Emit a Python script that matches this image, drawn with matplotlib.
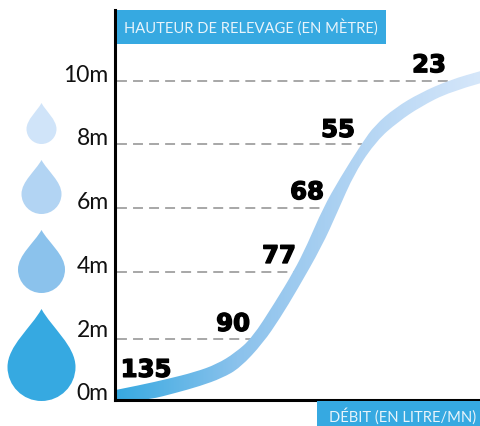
import numpy as np
import matplotlib
matplotlib.use('Agg')
from matplotlib import pyplot as plt
from matplotlib import patheffects
from matplotlib.colors import LinearSegmentedColormap
from matplotlib.patches import PathPatch, Rectangle
from matplotlib.path import Path
from matplotlib.transforms import ScaledTranslation

plt.rcParams['font.family'] = ['Lato', 'DejaVu Sans']

# curve band, x is the position along the flow axis, y in metres
upper_x = [0.5, 24.5, 51.5, 79.5, 101.5, 119.5, 136.5, 159, 178.5, 191.5, 207.5, 224.5, 246.5, 259.5, 279.5, 304.5, 334.5, 365.5]
upper_y = [0.30, 0.45, 0.64, 0.86, 1.11, 1.46, 1.93, 3.02, 4.03, 4.84, 6.0, 6.94, 8.04, 8.60, 9.14, 9.61, 10.02, 10.30]
lower_x = [0.5, 34.5, 59.5, 84.5, 106.5, 124.5, 147.5, 164.5, 181.5, 206.5, 221.5, 239.5, 261.5, 282.5, 304.5, 334.5, 365.5]
lower_y = [-0.1, 0.0, 0.2, 0.42, 0.67, 0.99, 1.77, 2.55, 3.43, 4.81, 5.85, 7.13, 8.13, 8.70, 9.17, 9.65, 9.92]

y_ticks = [0, 2, 4, 6, 8, 10]
y_labels = ['0m', '2m', '4m', '6m', '8m', '10m']

grid_y = [1.91, 4, 6, 8, 10]
grid_end = [136.5, 178.5, 207.5, 246.5, 334.5]

flows = ['135', '90', '77', '68', '55', '23']
flow_x = [30.5, 117.5, 163.5, 191.5, 222.5, 313.5]
flow_y = [0.93, 2.37, 4.5, 6.5, 8.45, 10.48]

drop_top = [103, 160, 230, 309]
drop_bottom = [144, 214, 293, 401]
drop_halfwidth = [15, 20, 23.5, 34]
drop_colors = ['#d0e4f9', '#b2d4f3', '#8bc2ec', '#36a9e1']

BLUE = '#36a9e1'
W, H = 481, 426

fig = plt.figure(figsize=(W / 100, H / 100), dpi=100)


def smooth_path(xs, ys):
    # quadratic curve through the midpoints of the read points
    verts = [(xs[0], ys[0])]
    codes = [Path.MOVETO]
    for i in range(1, len(xs) - 1):
        verts.append((xs[i], ys[i]))
        verts.append(((xs[i] + xs[i + 1]) / 2, (ys[i] + ys[i + 1]) / 2))
        codes += [Path.CURVE3, Path.CURVE3]
    verts.append((xs[-1], ys[-1]))
    codes.append(Path.LINETO)
    return verts, codes


ax = fig.add_axes([115.5 / W, (H - 399.5) / H, (W - 115.5) / W, 389.5 / H])

v1, c1 = smooth_path(upper_x, upper_y)
v2, c2 = smooth_path(lower_x[::-1], lower_y[::-1])
c2[0] = Path.LINETO
band = Path(v1 + v2 + [v1[0]], c1 + c2 + [Path.CLOSEPOLY])

cmap = LinearSegmentedColormap.from_list('band', ['#36a9e1', '#8bc2ec', '#b2d4f3', '#d6e7fa'])
grad = np.linspace(0, 1, 256).reshape(1, -1)
img = ax.imshow(grad, cmap=cmap, extent=[0, 365.5, -1, 12], aspect='auto', zorder=2)
img.set_clip_path(PathPatch(band, transform=ax.transData))

for y, end in zip(grid_y, grid_end):
    ax.plot([1.5, end], [y, y], color='#8f8f8f', lw=1.1, dashes=(6.5, 4), zorder=1)

heavy = [patheffects.withStroke(linewidth=1.0, foreground='black')]
for s, x, y in zip(flows, flow_x, flow_y):
    ax.text(x, y, s, fontsize=17.5, fontweight='bold', family='DejaVu Sans', color='black',
            ha='center', va='center', zorder=3, path_effects=heavy)

ax.set_xlim(0, W - 115.5)
ax.set_ylim(0, 389.5 / 31.9)
ax.set_xticks([])
ax.set_yticks(y_ticks)
ax.set_yticklabels(y_labels, fontsize=16.5, color='#111111')
ax.tick_params(axis='y', length=0, pad=5)
shift = ScaledTranslation(0, 7.5 / 100, fig.dpi_scale_trans)
for lab in ax.get_yticklabels():
    lab.set_transform(lab.get_transform() + shift)
ax.spines['top'].set_visible(False)
ax.spines['right'].set_visible(False)
ax.spines['left'].set_linewidth(2.2)
ax.spines['bottom'].set_linewidth(2.2)

# overlay in pixels for the drops and the two title boxes
ov = fig.add_axes([0, 0, 1, 1], zorder=5)
ov.set_xlim(0, W)
ov.set_ylim(H, 0)
ov.axis('off')
ov.patch.set_alpha(0)

cx = 41.5
for top, bottom, hw, col in zip(drop_top, drop_bottom, drop_halfwidth, drop_colors):
    mid = bottom - hw
    k = 0.5523 * hw
    verts = [
        (cx, top),
        (cx + 0.30 * hw, top + 0.32 * (mid - top)), (cx + hw, mid - 0.62 * hw), (cx + hw, mid),
        (cx + hw, mid + k), (cx + k, bottom), (cx, bottom),
        (cx - k, bottom), (cx - hw, mid + k), (cx - hw, mid),
        (cx - hw, mid - 0.62 * hw), (cx - 0.30 * hw, top + 0.32 * (mid - top)), (cx, top),
        (cx, top),
    ]
    codes = [Path.MOVETO] + [Path.CURVE4] * 12 + [Path.CLOSEPOLY]
    ov.add_patch(PathPatch(Path(verts, codes), facecolor=col, edgecolor='none'))

ov.add_patch(Rectangle((117, 10), 269, 34, facecolor=BLUE, edgecolor='none'))
ov.add_patch(Rectangle((317, 401), 164, 25, facecolor=BLUE, edgecolor='none'))
ov.text(124, 27, 'HAUTEUR DE RELEVAGE (EN MÈTRE)', fontsize=10.6, color='#e8f4fb', ha='left', va='center')
ov.text(329, 416, 'DÉBIT (EN LITRE/MN)', fontsize=10.6, color='#e8f4fb', ha='left', va='center')

fig.savefig('out.png', dpi=100)
